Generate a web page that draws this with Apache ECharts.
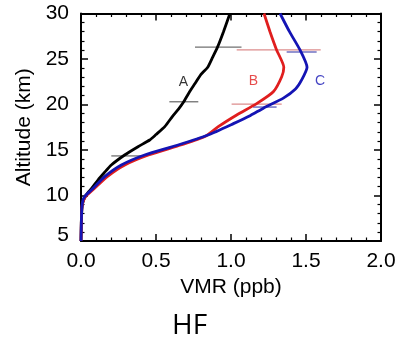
<!DOCTYPE html>
<html>
<head>
<meta charset="utf-8">
<script src="https://cdn.jsdelivr.net/npm/echarts@6/dist/echarts.min.js"></script>
<style>html,body{margin:0;padding:0;background:#fff;}#c{width:403px;height:349px;}</style>
</head>
<body>
<div id="c"></div>
<script>
// Altitude (km) and VMR (ppb) for each profile
var altA = [5, 7, 8.5, 9.2, 9.8, 10.3, 10.8, 11.7, 12.5, 13.35, 14.45, 15.36, 16.1, 16.7, 17.6, 18.7, 19.5, 20.3, 21.3, 22.3, 23.3, 24.1, 25.2, 26.3, 28, 30];
var vmrA = [0, 0.002, 0.006, 0.012, 0.025, 0.045, 0.072, 0.113, 0.155, 0.202, 0.291, 0.38, 0.458, 0.5, 0.56, 0.61, 0.65, 0.685, 0.72, 0.76, 0.80, 0.845, 0.878, 0.91, 0.95, 0.993];
var altB = [5, 8.5, 9.3, 9.9, 10.6, 12.07, 13.35, 14.45, 15.55, 16.5, 17.56, 18.85, 20.1, 21.4, 23.05, 24.1, 26.0, 28, 30];
var vmrB = [0, 0.005, 0.013, 0.032, 0.078, 0.175, 0.292, 0.45, 0.665, 0.83, 0.915, 1.038, 1.171, 1.282, 1.338, 1.352, 1.304, 1.26, 1.22];
var altC = [5, 8.5, 9.5, 10.0, 10.6, 12.07, 13.35, 14.45, 15.55, 16.65, 17.9, 18.8, 19.6, 20.7, 21.7, 22.7, 24.1, 26, 28, 30];
var vmrC = [0, 0.005, 0.013, 0.03, 0.069, 0.158, 0.269, 0.424, 0.647, 0.847, 1.016, 1.13, 1.216, 1.349, 1.43, 1.471, 1.507, 1.46, 1.39, 1.327];
// Error bars: altitude, min VMR, max VMR, profile
var errAlt = [26.3, 20.3, 14.35, 26.0, 20.05, 25.77, 19.72];
var errLo = [0.76, 0.589, 0.202, 1.038, 1.004, 1.371, 1.147];
var errHi = [1.07, 0.782, 0.413, 1.598, 1.338, 1.571, 1.304];
var errSet = ['A', 'A', 'A', 'B', 'B', 'C', 'C'];
// Profile labels
var labNames = ['A', 'B', 'C'];
var labVmr = [0.682, 1.149, 1.593];
var labAlt = [22.5, 22.6, 22.6];
var xTicks = [0, 0.5, 1.0, 1.5, 2.0];
var yTicks = [5, 10, 15, 20, 25, 30];

var colors = {A: '#000000', B: '#e01e1e', C: '#1414b4'};
var errColors = {A: '#707070', B: '#dc8c8c', C: '#5a5ab8'};

function pairs(x, y) { return x.map(function (v, i) { return [v, y[i]]; }); }

var chart = echarts.init(document.getElementById('c'), null, {renderer: 'canvas'});
var font = 'Liberation Sans, Arial, Helvetica, sans-serif';
var axisCommon = {
  axisLine: {show: true, onZero: false, lineStyle: {color: '#000', width: 2}},
  axisTick: {show: true, inside: true, length: 7, lineStyle: {color: '#000', width: 1.5}},
  minorTick: {show: true, splitNumber: 5, length: 3.5, lineStyle: {color: '#000', width: 1.2}},
  splitLine: {show: false}
};
function ax(o) { return Object.assign({}, JSON.parse(JSON.stringify(axisCommon)), o); }

var errData = errAlt.map(function (a, i) { return [errLo[i], errHi[i], a, errSet[i]]; });

chart.setOption({
  animation: false,
  backgroundColor: '#fff',
  grid: {left: 81, right: 22, top: 13.5, bottom: 108, containLabel: false},
  xAxis: [
    ax({type: 'value', position: 'bottom', min: xTicks[0], max: xTicks[xTicks.length - 1], interval: 0.5,
      name: 'VMR (ppb)', nameLocation: 'middle', nameGap: 35,
      nameTextStyle: {fontFamily: font, fontSize: 21, color: '#000'},
      axisLabel: {fontFamily: font, fontSize: 21, color: '#000', margin: 10,
        formatter: function (v) { return v.toFixed(1); }}}),
    ax({type: 'value', position: 'top', min: xTicks[0], max: xTicks[xTicks.length - 1], interval: 0.5,
      axisLabel: {show: false}})
  ],
  yAxis: [
    ax({type: 'value', position: 'left', min: yTicks[0], max: yTicks[yTicks.length - 1], interval: 5,
      name: 'Altitude (km)', nameLocation: 'middle', nameGap: 44,
      nameTextStyle: {fontFamily: font, fontSize: 21, color: '#000'},
      axisLabel: {fontFamily: font, fontSize: 21, color: '#000', margin: 12,
        formatter: function (v) { return v === 5 ? '{lo|5}' : String(v); },
        rich: {lo: {fontFamily: font, fontSize: 21, color: '#000', padding: [0, 0, 12, 0]}}}}),
    ax({type: 'value', position: 'right', min: yTicks[0], max: yTicks[yTicks.length - 1], interval: 5,
      axisLabel: {show: false}})
  ],
  series: [
    {type: 'custom', coordinateSystem: 'cartesian2d', xAxisIndex: 0, yAxisIndex: 0, z: 1,
      data: errData,
      renderItem: function (params, api) {
        var p1 = api.coord([api.value(0), api.value(2)]);
        var p2 = api.coord([api.value(1), api.value(2)]);
        var s = errData[params.dataIndex][3];
        return {type: 'line', shape: {x1: p1[0], y1: p1[1], x2: p2[0], y2: p2[1]},
          style: {stroke: errColors[s], lineWidth: 1.3}};
      }},
    {type: 'line', name: 'A', data: pairs(vmrA, altA), showSymbol: false, smooth: 0.2,
      lineStyle: {color: colors.A, width: 2.8}, z: 3},
    {type: 'line', name: 'B', data: pairs(vmrB, altB), showSymbol: false, smooth: 0.2,
      lineStyle: {color: colors.B, width: 2.8}, z: 3},
    {type: 'line', name: 'C', data: pairs(vmrC, altC), showSymbol: false, smooth: 0.2,
      lineStyle: {color: colors.C, width: 2.8}, z: 4},
    {type: 'scatter', symbolSize: 0, z: 5,
      data: labNames.map(function (n, i) { return {value: [labVmr[i], labAlt[i]], name: n, label: {color: colors[n]}}; }),
      label: {show: true, position: 'inside', fontFamily: font, fontSize: 14,
        formatter: function (p) { return p.name; }}}
  ],
  graphic: [
    {type: 'text', left: 172, top: 312, style: {text: 'HF', fontFamily: 'Open Sans, Noto Sans, sans-serif', fontSize: 28, fill: '#000'}}
  ]
});
</script>
</body>
</html>
